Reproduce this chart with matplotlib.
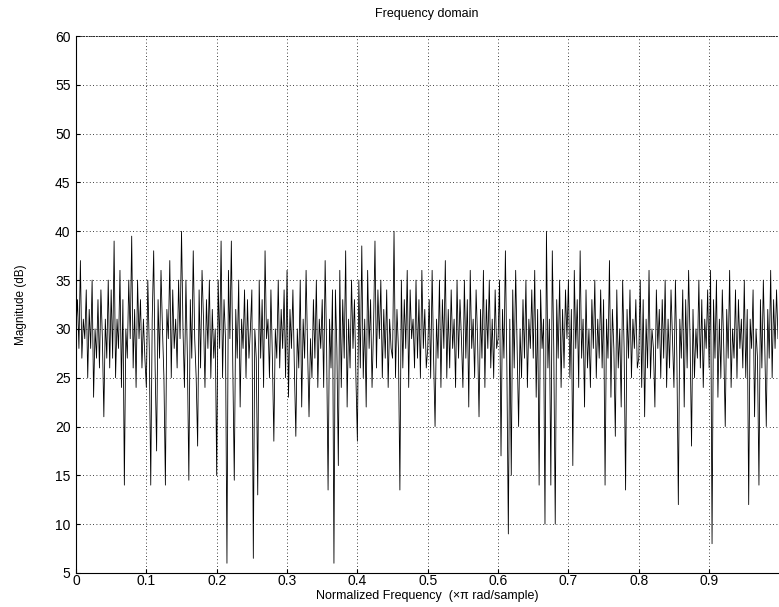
import numpy as np
import matplotlib
matplotlib.use("Agg")
import matplotlib.pyplot as plt

plt.rcParams['font.family'] = ['Liberation Sans', 'DejaVu Sans']

# Magnitude response (dB), listed in order of increasing normalized frequency
mag_db = [
    30, 33, 28, 37, 27, 31, 29, 34, 25, 32, 28, 35, 23, 30, 27, 33, 26, 34, 29, 21, 31, 27, 35, 26,
    34, 27, 39, 25, 31, 28, 36, 24, 33, 14, 30, 27, 35, 29, 39.5, 26, 32, 24, 35, 29, 33, 26, 31, 27,
    24, 35, 28, 14, 31, 38, 26, 17.5, 33, 27, 36, 30, 25, 14, 32, 29, 37, 25, 34, 28, 31, 26, 35, 29,
    40, 30, 24, 35, 27, 14.5, 33, 27, 38, 29, 25, 18, 34, 26, 36, 31, 24, 33, 28, 35, 25, 32, 27, 30,
    15, 35, 28, 39, 25, 33, 29, 6, 36, 29, 39, 26, 14.5, 32, 27, 35, 22, 31, 28, 34, 25, 33, 27, 30,
    34, 6.5, 30, 27, 13, 35, 27, 33, 24, 38, 29, 31, 25, 34, 27, 18.5, 30, 27, 35, 26, 32, 28, 34, 25,
    36, 23, 32, 28, 34, 26, 19, 30, 26, 35, 22, 31, 27, 36, 28, 21, 29, 25, 33, 27, 35, 24, 31, 28,
    33, 24, 37, 28, 13.5, 31, 26, 34, 6, 34, 28, 16, 36, 24, 33, 27, 38, 22, 31, 26, 35, 28, 33, 25,
    18.5, 35, 26, 38.5, 25, 31, 22, 36, 28, 33, 24, 30, 39, 26, 34, 29, 35, 25, 32, 27, 34, 24, 31, 28,
    27, 40, 25, 32, 28, 13.5, 35, 26, 33, 28, 36, 24, 34, 29, 31, 26, 35, 27, 33, 25, 36, 28, 32, 26,
    28, 33, 25, 36, 27, 20, 31, 27, 35, 24, 33, 28, 37, 25, 32, 26, 34, 28, 31, 24, 35, 27, 33, 29,
    24, 35, 27, 33, 22, 36, 28, 31, 25, 34, 29, 21, 32, 27, 36, 24, 33, 28, 35, 26, 31, 25, 34, 28,
    29, 35, 17, 32, 27, 38, 26, 9, 31, 15, 34, 26, 36, 28, 20, 30, 25, 33, 27, 35, 24, 31, 28, 34,
    27, 36, 23, 32, 14, 34, 28, 31, 10, 40, 26, 31, 14, 38, 28, 10, 33, 27, 35, 24, 32, 26, 34, 29,
    35, 25, 32, 16, 36, 28, 33, 24, 38, 27, 31, 22, 34, 26, 30, 24, 33, 28, 35, 25, 31, 27, 34, 26,
    33, 14, 31, 27, 37, 23, 32, 28, 19, 34, 26, 30, 22, 35, 28, 13.5, 32, 27, 34, 25, 31, 28, 33, 26,
    27, 35, 24, 33, 21, 31, 26, 36, 25, 30, 28, 22, 34, 28, 32, 25, 33, 27, 35, 24, 31, 26, 34, 29,
    24, 35, 27, 12, 31, 27, 34, 22, 33, 26, 36, 29, 18, 32, 25, 30, 27, 35, 26, 33, 24, 31, 28, 34,
    26, 36, 8, 33, 27, 35, 23, 31, 25, 34, 28, 20, 32, 27, 36, 24, 30, 27, 34, 25, 33, 28, 31, 26,
    35, 25, 32, 12, 31, 28, 34, 21, 30, 27, 14, 33, 26, 35, 28, 20, 32, 27, 36, 25, 33, 28, 34, 29,
]
n_bins = len(mag_db)
freq = np.arange(n_bins) / n_bins  # normalized frequency (x pi rad/sample)

x_ticks = [0, 0.1, 0.2, 0.3, 0.4, 0.5, 0.6, 0.7, 0.8, 0.9]
x_tick_labels = ['0', '0.1', '0.2', '0.3', '0.4', '0.5', '0.6', '0.7', '0.8', '0.9']
y_ticks = [5, 10, 15, 20, 25, 30, 35, 40, 45, 50, 55, 60]

fig = plt.figure(figsize=(7.79, 6.07), dpi=100)
ax = fig.add_axes([76 / 779, 34 / 607, 702 / 779, 537 / 607])

ax.plot(freq, mag_db, color='black', lw=0.6)

ax.set_xlim(0, freq[-1])
ax.set_ylim(5, 60)
ax.set_xticks(x_ticks)
ax.set_xticklabels(x_tick_labels)
ax.set_yticks(y_ticks)
ax.tick_params(direction='in', length=3, labelsize=10, colors='black')
ax.tick_params(axis='x', pad=1)
ax.tick_params(axis='y', pad=4)

ax.grid(True, color='black', linestyle=(0, (1, 3)), linewidth=0.6)
ax.spines['right'].set_visible(False)
ax.spines['top'].set_linestyle((0, (1, 2)))
ax.spines['top'].set_linewidth(0.6)
ax.spines['left'].set_linewidth(0.8)
ax.spines['bottom'].set_linewidth(0.8)

ax.set_title('Frequency domain', fontsize=9, pad=14)
ax.set_xlabel('Normalized Frequency  (\u00d7\u03c0 rad/sample)', fontsize=9, labelpad=1)
ax.set_ylabel('Magnitude (dB)', fontsize=8.5, labelpad=20)

fig.savefig('out.png', dpi=100)
